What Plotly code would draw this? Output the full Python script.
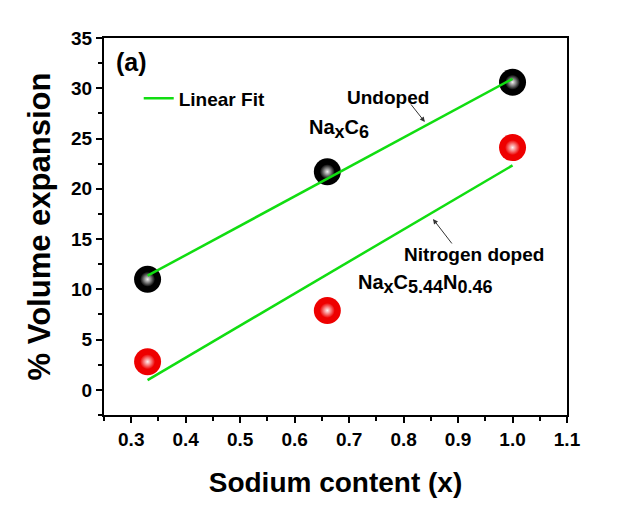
import numpy as np
import plotly.graph_objects as go

# Data
sodium_x = [0.33, 0.66, 1.0]
undoped_expansion = [11.0, 21.7, 30.6]
ndoped_expansion = [2.8, 7.9, 24.1]

x_tickvals = [0.3, 0.4, 0.5, 0.6, 0.7, 0.8, 0.9, 1.0, 1.1]
y_tickvals = [0, 5, 10, 15, 20, 25, 30, 35]

FONT = "Liberation Sans"
GREEN = "#11dd11"

def fit_line(x, y):
    k, b = np.polyfit(x, y, 1)
    xs = np.array([min(x), max(x)])
    return xs, k * xs + b

fig = go.Figure()

for ys, base, hl in [(undoped_expansion, "#000000", "#f0f0f0"),
                     (ndoped_expansion, "#ee0000", "#fff0f0")]:
    fig.add_trace(go.Scatter(x=sodium_x, y=ys, mode="markers", showlegend=False,
                             marker=dict(size=27, color=base, line=dict(width=0))))
    fig.add_trace(go.Scatter(x=sodium_x, y=ys, mode="markers", showlegend=False,
                             marker=dict(size=15, color=base, line=dict(width=0),
                                         gradient=dict(type="radial", color=hl))))

xs, ys = fit_line(sodium_x, undoped_expansion)
fig.add_trace(go.Scatter(x=xs, y=ys, mode="lines", name="Linear Fit",
                         line=dict(color=GREEN, width=2.5), legendgroup="fit"))
xs, ys = fit_line(sodium_x, ndoped_expansion)
fig.add_trace(go.Scatter(x=xs, y=ys, mode="lines", name="Linear Fit", showlegend=False,
                         line=dict(color=GREEN, width=2.5), legendgroup="fit"))

axis_common = dict(showline=True, linecolor="black", linewidth=2, mirror=True,
                   ticks="outside", ticklen=6, tickwidth=2, tickcolor="black",
                   showgrid=False, zeroline=False,
                   tickfont=dict(family=FONT, size=19, color="black", weight="bold"))

fig.update_xaxes(range=[0.25, 1.1], tickvals=x_tickvals,
                 ticktext=[f"{v:.1f}" for v in x_tickvals],
                 minor=dict(ticks="outside", ticklen=4, tickwidth=2, tickcolor="black", dtick=0.05, tick0=0.25),
                 title=dict(text="Sodium content (x)", standoff=24,
                            font=dict(family=FONT, size=28, color="black", weight="bold")),
                 **axis_common)
fig.update_yaxes(range=[-2.5, 35], tickvals=y_tickvals,
                 minor=dict(ticks="outside", ticklen=4, tickwidth=2, tickcolor="black", dtick=2.5, tick0=0),
                 title=dict(text="% Volume expansion", standoff=11,
                            font=dict(family=FONT, size=31, color="black", weight="bold")),
                 **axis_common)

ann_font = dict(family=FONT, size=19, color="black", weight="bold")
formula_font = dict(family=FONT, size=20, color="black", weight="bold")

def sub(t):
    return f"<sub><span style='font-size:18px'>{t}</span></sub>"

annotations = [
    dict(x=0.30, y=32.6, text="(a)", showarrow=False, font=dict(family=FONT, size=25, color="black", weight="bold")),
    dict(x=0.771, y=29.1, text="Undoped", showarrow=False, font=ann_font),
    dict(x=0.681, y=25.9, text="Na" + sub("x") + "C" + sub("6"), showarrow=False, font=formula_font),
    dict(x=0.929, y=13.5, text="Nitrogen doped", showarrow=False, font=ann_font),
    dict(x=0.841, y=10.5, text="Na" + sub("x") + "C" + sub("5.44") + "N" + sub("0.46"),
         showarrow=False, font=formula_font),
    dict(x=0.839, y=26.65, ax=-15, ay=-19, text="", showarrow=True, arrowhead=2,
         arrowsize=1, arrowwidth=1, arrowcolor="#333333"),
    dict(x=0.854, y=17.0, ax=20, ay=26, text="", showarrow=True, arrowhead=2,
         arrowsize=1, arrowwidth=1, arrowcolor="#333333"),
]

fig.update_layout(
    width=618, height=518,
    margin=dict(l=104, r=51, t=38, b=103),
    paper_bgcolor="white", plot_bgcolor="white",
    annotations=annotations,
    legend=dict(x=0.075, y=0.84, xanchor="left", yanchor="middle",
                bgcolor="rgba(0,0,0,0)",
                font=dict(family=FONT, size=19, color="black", weight="bold")),
)

fig.write_html("out.html")
